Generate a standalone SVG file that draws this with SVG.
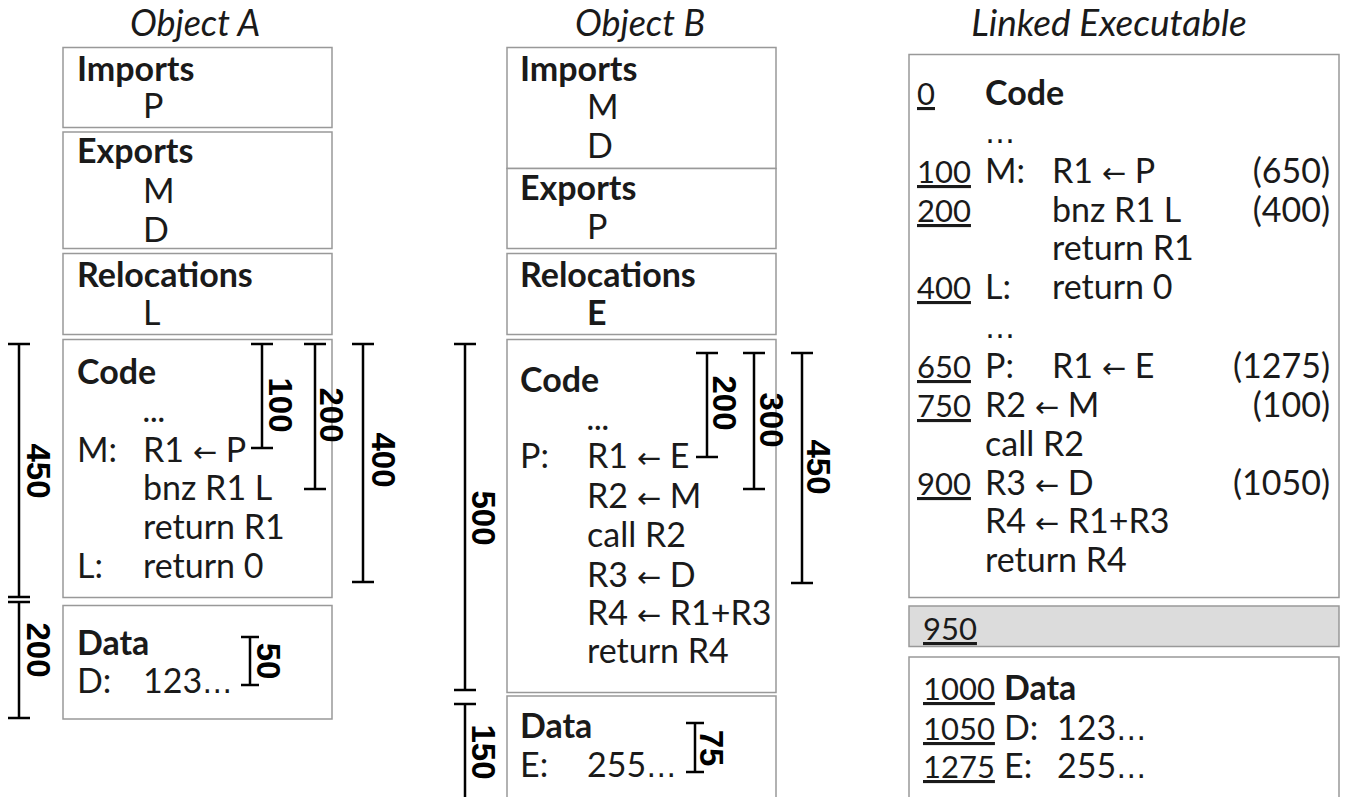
<svg xmlns="http://www.w3.org/2000/svg" width="1346" height="797" viewBox="0 0 1346 797">
<style>
text{font-family:Lato,"Open Sans","DejaVu Sans",sans-serif;font-size:34px;fill:#1a1a1a}
.b{font-weight:bold}
.t{font-style:italic;font-size:36px}
.u{text-decoration:underline;font-size:31px}
.ar{font-family:"DejaVu Sans",sans-serif;font-size:29px}
.el{font-family:"DejaVu Sans",sans-serif;font-size:30px}
.ec{font-weight:bold;font-size:28px}
.box{fill:#fff;stroke:#999;stroke-width:1.5}
.gray{fill:#dcdcdc;stroke:#999;stroke-width:1.5}
.dim{stroke:#000;stroke-width:2.5;fill:none}
.dl{font-family:"Liberation Sans",Arial,sans-serif;font-weight:bold;font-size:33px;fill:#000}
.e{text-anchor:end}
</style>
<rect width="1346" height="797" fill="#fff"/>

<g id="titles">
<text class="t" x="195" y="36" text-anchor="middle">Object A</text>
<text class="t" x="640" y="36" text-anchor="middle">Object B</text>
<text class="t" x="1109" y="36" text-anchor="middle" style="font-size:37px">Linked Executable</text>
</g>

<g id="a-imports">
<rect class="box" x="63" y="47.5" width="269" height="80"/>
<text class="b" x="77" y="81">Imports</text>
<text x="143" y="118">P</text>
</g>
<g id="a-exports">
<rect class="box" x="63" y="132" width="269" height="116.5"/>
<text class="b" x="77" y="163">Exports</text>
<text x="143" y="203">M</text>
<text x="143" y="242">D</text>
</g>
<g id="a-relocations">
<rect class="box" x="63" y="253.5" width="269" height="81"/>
<text class="b" x="77" y="287">Relocations</text>
<text x="143" y="325">L</text>
</g>
<g id="a-code">
<rect class="box" x="63" y="339.5" width="269" height="258"/>
<text class="b" x="77" y="384">Code</text>
<text class="ec" x="143" y="422">…</text>
<text x="77" y="462">M:</text>
<text x="143" y="462">R1 <tspan class="ar">←</tspan> P</text>
<text x="143" y="500">bnz R1 L</text>
<text x="143" y="539">return R1</text>
<text x="77" y="578">L:</text>
<text x="143" y="578">return 0</text>
</g>
<g id="a-data">
<rect class="box" x="63" y="605.5" width="269" height="113.5"/>
<text class="b" x="77" y="655">Data</text>
<text x="77" y="693">D:</text>
<text x="143" y="693">123<tspan class="el">…</tspan></text>
</g>

<g id="b-imports">
<rect class="box" x="507" y="47.5" width="269" height="121"/>
<text class="b" x="520" y="81">Imports</text>
<text x="587" y="119">M</text>
<text x="587" y="158">D</text>
</g>
<g id="b-exports">
<rect class="box" x="507" y="168.5" width="269" height="80"/>
<text class="b" x="520" y="200">Exports</text>
<text x="587" y="239">P</text>
</g>
<g id="b-relocations">
<rect class="box" x="507" y="253.5" width="269" height="81"/>
<text class="b" x="520" y="287">Relocations</text>
<text class="b" x="587" y="325">E</text>
</g>
<g id="b-code">
<rect class="box" x="507" y="339.5" width="269" height="353"/>
<text class="b" x="520" y="392">Code</text>
<text class="ec" x="587" y="430">…</text>
<text x="520" y="468">P:</text>
<text x="587" y="468">R1 <tspan class="ar">←</tspan> E</text>
<text x="587" y="508">R2 <tspan class="ar">←</tspan> M</text>
<text x="587" y="547">call R2</text>
<text x="587" y="587">R3 <tspan class="ar">←</tspan> D</text>
<text x="587" y="625">R4 <tspan class="ar">←</tspan> R1+R3</text>
<text x="587" y="663">return R4</text>
</g>
<g id="b-data">
<rect class="box" x="507" y="696" width="269" height="130"/>
<text class="b" x="520" y="738">Data</text>
<text x="520" y="777">E:</text>
<text x="587" y="777">255<tspan class="el">…</tspan></text>
</g>

<g id="l-code">
<rect class="box" x="909" y="54.5" width="430" height="543"/>
<text class="u" x="917" y="105">0</text>
<text class="b" x="985" y="105">Code</text>
<text class="el" x="985" y="143">…</text>
<text class="u" x="917" y="183">100</text>
<text x="985" y="183">M:</text>
<text x="1052" y="183">R1 <tspan class="ar">←</tspan> P</text>
<text class="e" x="1330" y="183">(650)</text>
<text class="u" x="917" y="222">200</text>
<text x="1052" y="222">bnz R1 L</text>
<text class="e" x="1330" y="222">(400)</text>
<text x="1052" y="260">return R1</text>
<text class="u" x="917" y="299">400</text>
<text x="985" y="299">L:</text>
<text x="1052" y="299">return 0</text>
<text class="el" x="985" y="338">…</text>
<text class="u" x="917" y="378">650</text>
<text x="985" y="378">P:</text>
<text x="1052" y="378">R1 <tspan class="ar">←</tspan> E</text>
<text class="e" x="1330" y="378">(1275)</text>
<text class="u" x="917" y="417">750</text>
<text x="985" y="417">R2 <tspan class="ar">←</tspan> M</text>
<text class="e" x="1330" y="417">(100)</text>
<text x="985" y="456">call R2</text>
<text class="u" x="917" y="495">900</text>
<text x="985" y="495">R3 <tspan class="ar">←</tspan> D</text>
<text class="e" x="1330" y="495">(1050)</text>
<text x="985" y="533">R4 <tspan class="ar">←</tspan> R1+R3</text>
<text x="985" y="572">return R4</text>
</g>
<g id="l-gap">
<rect class="gray" x="909" y="606" width="430" height="40.5"/>
<text class="u" x="923" y="640">950</text>
</g>
<g id="l-data">
<rect class="box" x="909" y="657" width="430" height="170"/>
<text class="u" x="923" y="700">1000</text>
<text class="b" x="1004" y="700">Data</text>
<text class="u" x="923" y="740">1050</text>
<text x="1004" y="740">D:</text>
<text x="1057" y="740">123<tspan class="el">…</tspan></text>
<text class="u" x="923" y="778">1275</text>
<text x="1004" y="778">E:</text>
<text x="1057" y="778">255<tspan class="el">…</tspan></text>
</g>

<g id="dimensions">
<path class="dim" d="M19 344V597M8 344H30M8 597H30"/>
<text class="dl" transform="translate(27,471) rotate(90)" text-anchor="middle">450</text>
<path class="dim" d="M19 602V718M8 602H30M8 718H30"/>
<text class="dl" transform="translate(27,650) rotate(90)" text-anchor="middle">200</text>
<path class="dim" d="M262 344V448M251 344H273M251 448H273"/>
<text class="dl" transform="translate(269,405) rotate(90)" text-anchor="middle">100</text>
<path class="dim" d="M315 344V489M304 344H326M304 489H326"/>
<text class="dl" transform="translate(320,415) rotate(90)" text-anchor="middle">200</text>
<path class="dim" d="M363 344V582M352 344H374M352 582H374"/>
<text class="dl" transform="translate(372,460) rotate(90)" text-anchor="middle">400</text>
<path class="dim" d="M250 637V685M241 637H259M241 685H259"/>
<text class="dl" transform="translate(257,661) rotate(90)" text-anchor="middle">50</text>

<path class="dim" d="M465 344V690M454 344H476M454 690H476"/>
<text class="dl" transform="translate(472,518) rotate(90)" text-anchor="middle">500</text>
<path class="dim" d="M465 704V797M454 704H476"/>
<text class="dl" transform="translate(472,752) rotate(90)" text-anchor="middle">150</text>
<path class="dim" d="M707 353V457M696 353H718M696 457H718"/>
<text class="dl" transform="translate(713,403) rotate(90)" text-anchor="middle">200</text>
<path class="dim" d="M754 353V489M743 353H765M743 489H765"/>
<text class="dl" transform="translate(760,420) rotate(90)" text-anchor="middle">300</text>
<path class="dim" d="M802 353V583M791 353H813M791 583H813"/>
<text class="dl" transform="translate(807,467) rotate(90)" text-anchor="middle">450</text>
<path class="dim" d="M695 723V772M686 723H704M686 772H704"/>
<text class="dl" transform="translate(700,748) rotate(90)" text-anchor="middle">75</text>
</g>
</svg>
